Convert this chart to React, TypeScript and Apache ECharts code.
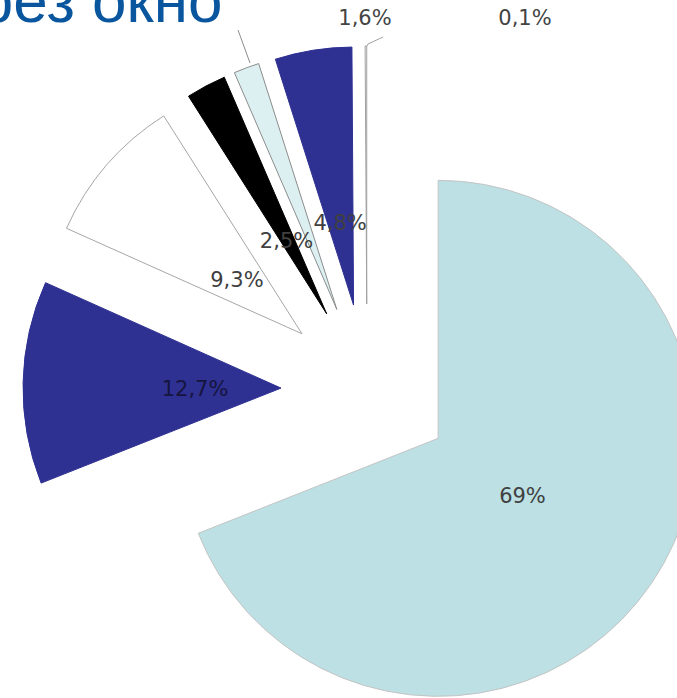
import React, { useEffect, useRef } from "react";
import * as echarts from "echarts";

const titleText = "через окно";
const categories = ["A", "B", "C", "D", "E", "F", "G"];
const values = [69, 12.7, 9.3, 2.5, 1.6, 4.8, 0.1];
const colors = ["#bce0e4", "#2e3092", "#ffffff", "#000000", "#dcf0f2", "#2e3092", "#ffffff"];
const borders = ["#c4c4c4", "#2e3092", "#a6a6a6", "#000000", "#8c8c8c", "#2e3092", "#a0a0a0"];
const insideLabel = [true, true, true, true, false, true, false];

const fmt = (v: number) => `${String(v).replace(".", ",")}%`;

export default function App() {
  const ref = useRef<HTMLDivElement>(null);
  useEffect(() => {
    const chart = echarts.init(ref.current!, null, { renderer: "svg" });
    const center = [367, 390];
    const R = 258;
    const RL = 166;
    const offset = 86;
    const total = values.reduce((a, b) => a + b, 0);
    const mids: number[] = [];
    let acc = 0;
    values.forEach((v) => {
      mids.push(((acc + v / 2) / total) * Math.PI * 2);
      acc += v;
    });

    const mainData = values.map((v, i) => ({
      value: v,
      name: categories[i],
      selected: true,
      itemStyle: { color: colors[i], borderColor: borders[i], borderWidth: 1 },
    }));
    const labelData = values.map((v, i) => ({
      value: v,
      name: categories[i],
      selected: true,
      itemStyle: { color: "rgba(0,0,0,0)", borderWidth: 0 },
      label: {
        show: insideLabel[i],
        color: i === 1 ? "#15153f" : "#404040",
      },
    }));

    const labelFont = '21px "DejaVu Sans", Verdana, sans-serif';

    chart.setOption({
      animation: false,
      graphic: [
        {
          type: "text",
          x: -88,
          y: 0,
          style: {
            text: titleText,
            font: '62px "Liberation Sans", Arial, sans-serif',
            fill: "#0a569e",
            verticalAlign: "middle",
            align: "left",
          },
          z: 10,
        },
        {
          type: "text",
          x: 365,
          y: 18,
          style: {
            text: fmt(values[4]),
            font: labelFont,
            fill: "#444444",
            align: "center",
            verticalAlign: "middle",
          },
        },
        {
          type: "text",
          x: 525,
          y: 18,
          style: {
            text: fmt(values[6]),
            font: labelFont,
            fill: "#444444",
            align: "center",
            verticalAlign: "middle",
          },
        },
        {
          type: "polyline",
          shape: { points: [[250, 63], [238, 30]] },
          style: { stroke: "#8c8c8c", lineWidth: 1, fill: null },
        },
        {
          type: "polyline",
          shape: { points: [[367, 46], [368, 44], [383, 37]] },
          style: { stroke: "#a0a0a0", lineWidth: 1, fill: null },
        },
      ],
      series: [
        {
          type: "pie",
          center,
          radius: [0, R],
          startAngle: 90,
          clockwise: true,
          selectedMode: "multiple",
          selectedOffset: offset,
          avoidLabelOverlap: false,
          emphasis: { disabled: true },
          silent: true,
          data: mainData,
          label: { show: false },
          labelLine: { show: false },
        },
        {
          type: "pie",
          center,
          radius: [0, RL],
          startAngle: 90,
          clockwise: true,
          selectedMode: "multiple",
          selectedOffset: offset,
          avoidLabelOverlap: false,
          emphasis: { disabled: true },
          silent: true,
          data: labelData,
          label: {
            position: "inside",
            formatter: (p: any) => fmt(p.value),
            fontFamily: '"DejaVu Sans", Verdana, sans-serif',
            fontSize: 21,
          },
          labelLine: { show: false },
          labelLayout: (p: any) => {
            if (p.dataIndex === 0) {
              const a = mids[0];
              return { dx: 16 * Math.sin(a), dy: -16 * Math.cos(a) };
            }
            return { dy: 3 };
          },
        },
      ],
    });
    return () => chart.dispose();
  }, []);
  return (
    <div
      ref={ref}
      style={{ position: "absolute", left: 0, top: 0, width: 677, height: 698, background: "#fff" }}
    />
  );
}
